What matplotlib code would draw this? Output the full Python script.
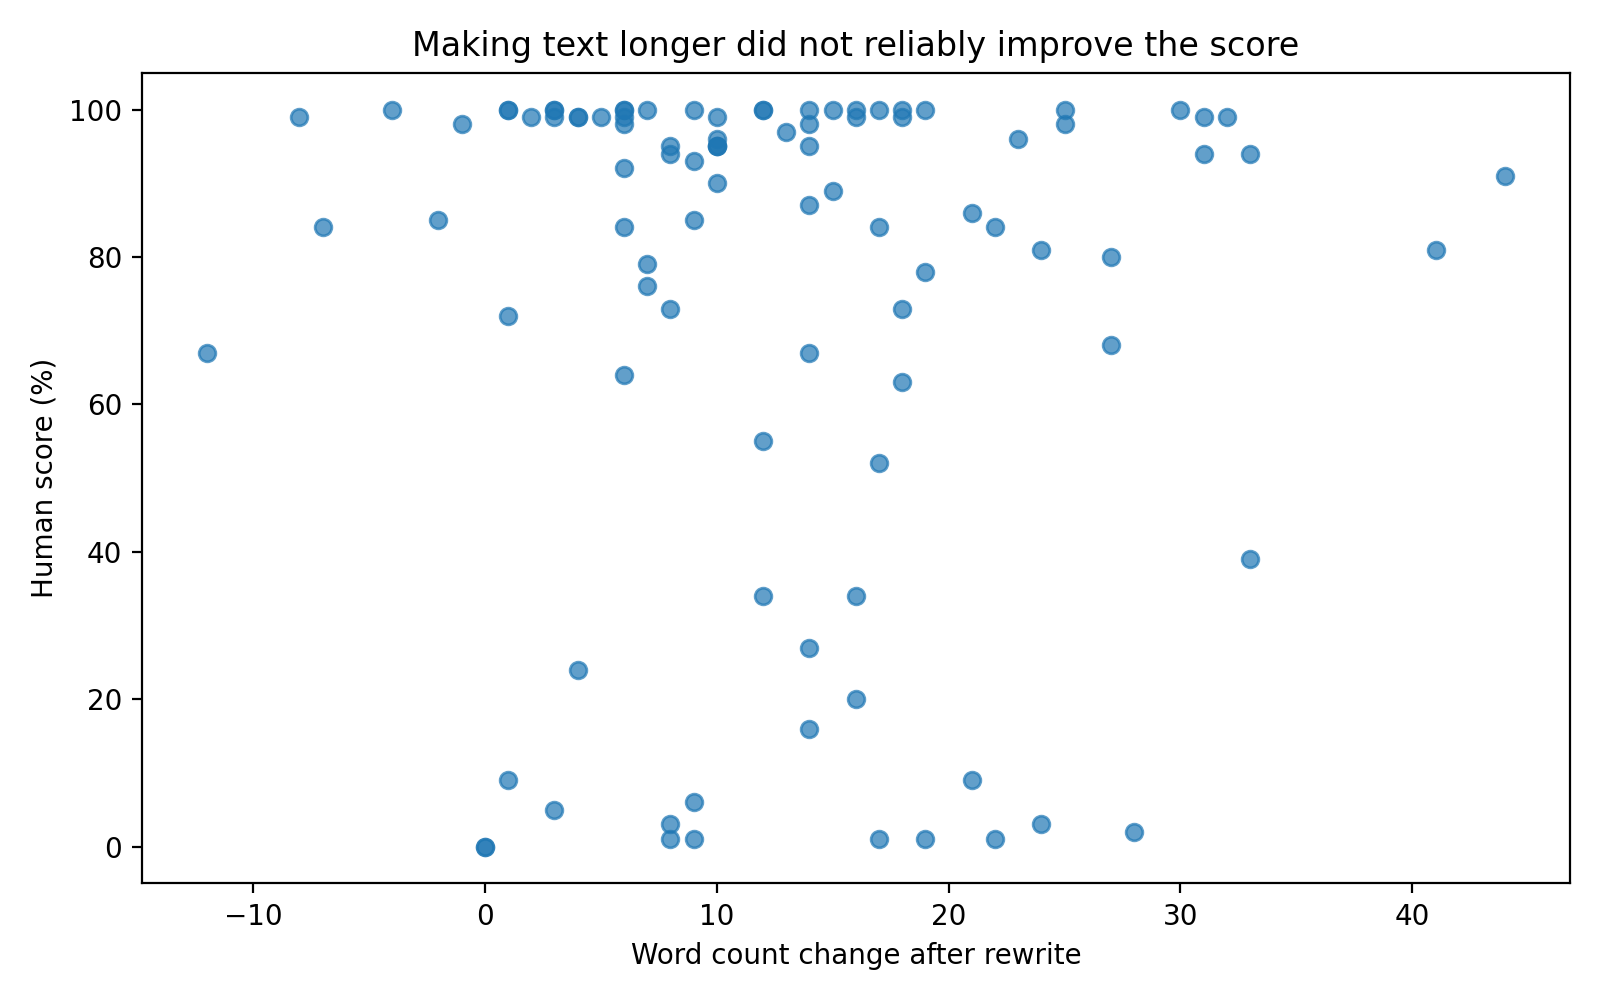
import numpy as np
import matplotlib
matplotlib.use("Agg")
import matplotlib.pyplot as plt

# word count change after rewrite (x) vs human score % (y)
word_change = [
  -12, -8, -7, -4, -2, -1,
  0, 0, 1, 1, 1, 1, 2, 3, 3, 3, 3, 4, 4, 4, 5,
  6, 6, 6, 6, 6, 6, 6, 7, 7, 7, 8, 8, 8, 8, 8,
  9, 9, 9, 9, 9, 10, 10, 10, 10, 10, 10,
  12, 12, 12, 12, 13, 14, 14, 14, 14, 14, 14, 14,
  15, 15, 16, 16, 16, 16, 17, 17, 17, 17, 18, 18, 18, 18,
  19, 19, 19, 21, 21, 22, 22, 23, 24, 24, 25, 25, 27, 27, 28,
  30, 31, 31, 32, 33, 33, 41, 44,
]
human_score = [
  67, 99, 84, 100, 85, 98,
  0, 0, 100, 100, 72, 9, 99, 100, 100, 99, 5, 99, 99, 24, 99,
  100, 100, 99, 98, 92, 84, 64, 100, 79, 76, 95, 94, 73, 3, 1,
  100, 93, 85, 6, 1, 99, 96, 95, 95, 90, 95,
  100, 100, 55, 34, 97, 100, 98, 95, 87, 67, 27, 16,
  100, 89, 100, 99, 34, 20, 100, 84, 52, 1, 100, 99, 73, 63,
  100, 78, 1, 86, 9, 84, 1, 96, 81, 3, 100, 98, 80, 68, 2,
  100, 99, 94, 99, 94, 39, 81, 91,
]

fig, ax = plt.subplots(figsize=(8, 5), dpi=200)
ax.scatter(word_change, human_score, alpha=0.7)
ax.set_title('Making text longer did not reliably improve the score')
ax.set_xlabel('Word count change after rewrite')
ax.set_ylabel('Human score (%)')
fig.tight_layout()
fig.savefig('out.png')
